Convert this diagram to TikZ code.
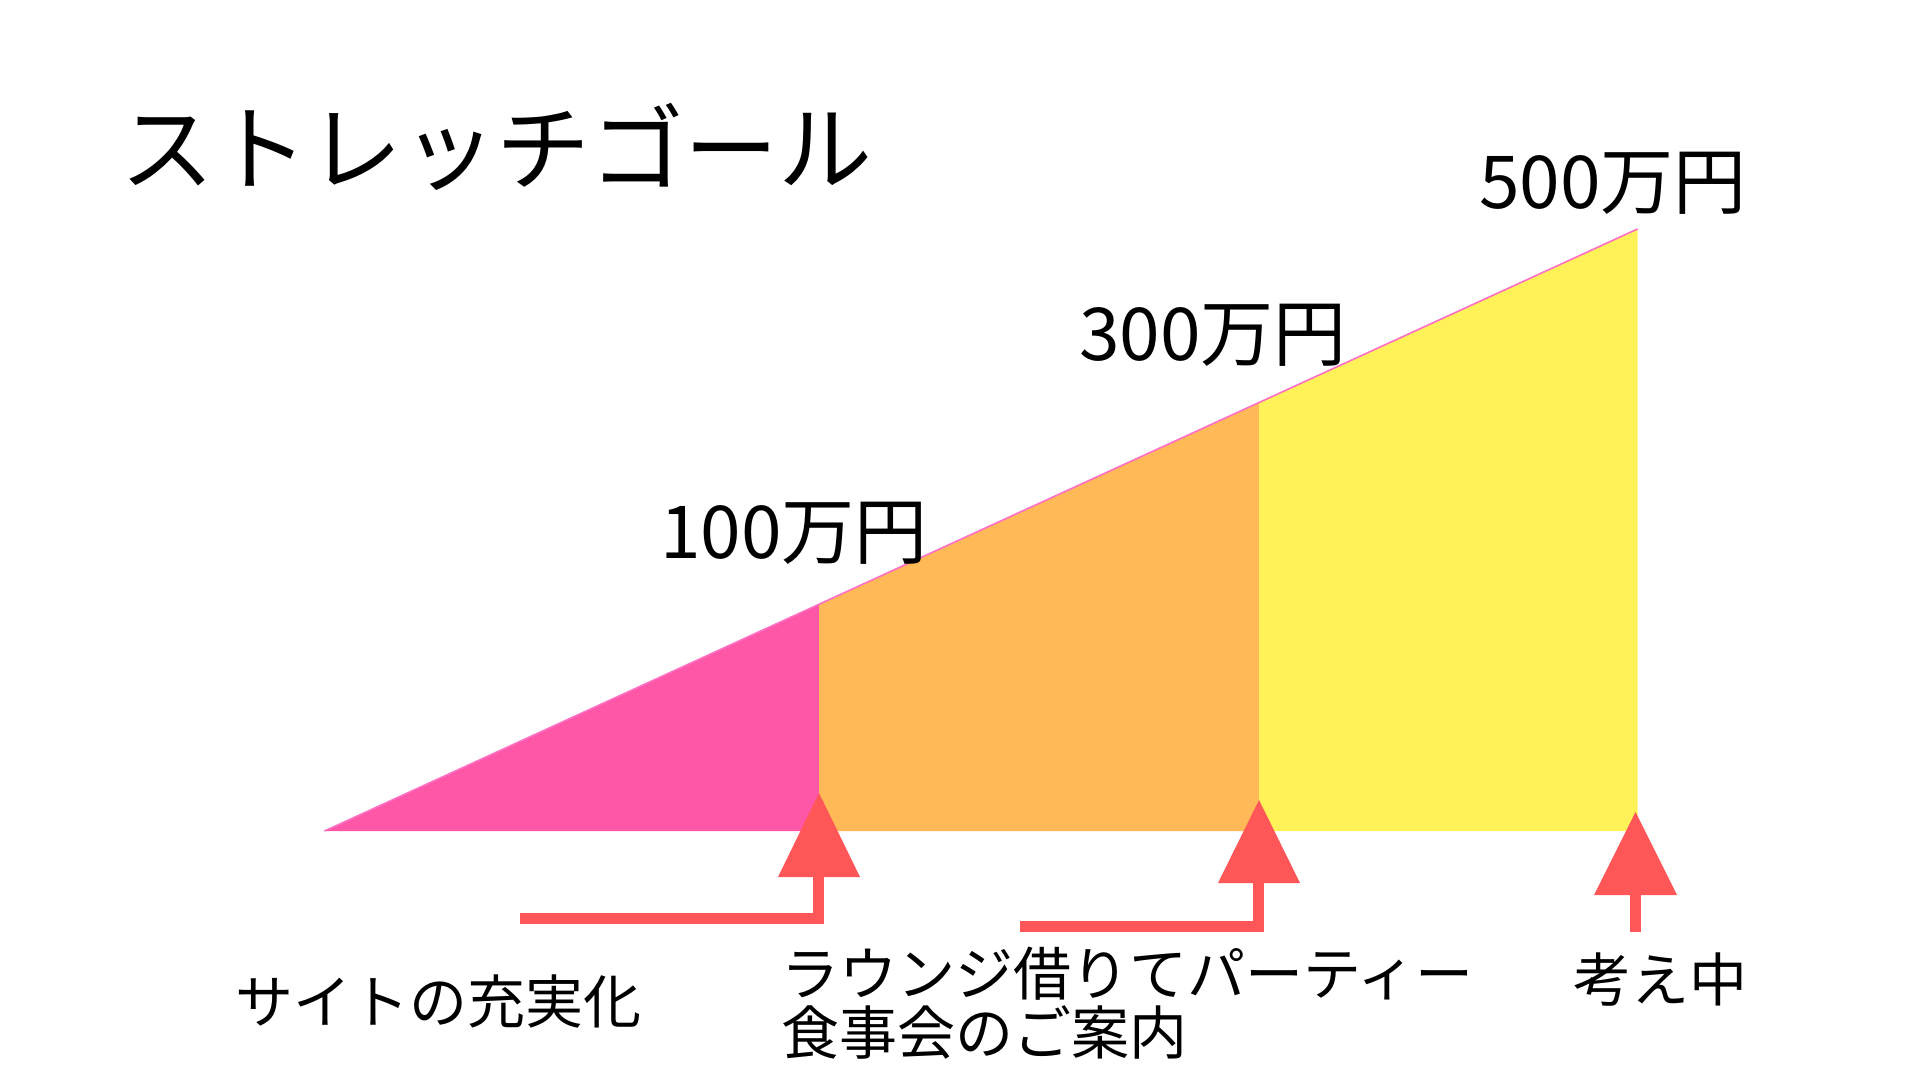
\documentclass[tikz,border=0pt]{standalone}
\usepackage{fontspec}
\setmainfont{Noto Sans CJK JP}
\begin{document}
\begin{tikzpicture}[x=0.5pt,y=-0.5pt,
  title/.style={inner sep=0pt,anchor=west,font=\fontsize{47}{56}\selectfont},
  amount/.style={inner sep=0pt,font=\fontsize{36.5}{42}\selectfont},
  label/.style={inner sep=0pt,anchor=west,align=left,font=\fontsize{29}{29.5}\selectfont},
  shaft/.style={draw=cred,line width=5.5pt,line join=miter,line cap=butt},
  head/.style={fill=cred}]
\definecolor{cpink}{HTML}{FF57A8}
\definecolor{corange}{HTML}{FFBA57}
\definecolor{cyellow}{HTML}{FFF258}
\definecolor{cred}{HTML}{FF5757}
\definecolor{cline}{HTML}{FF6FC6}
\fill[white] (0,0) rectangle (1920,1080);
\useasboundingbox (0,0) rectangle (1920,1080);
% milestones
\coordinate (s0) at (324.5,831);
\coordinate (t1) at (819,604);
\coordinate (b1) at (819,831);
\coordinate (t2) at (1259,402.4);
\coordinate (b2) at (1259,831);
\coordinate (t3) at (1637.5,229);
\coordinate (b3) at (1637.5,831);
\fill[cpink] (s0) -- (t1) -- (b1) -- cycle;
\fill[corange] (t1) -- (t2) -- (b2) -- (b1) -- cycle;
\fill[cyellow] (t2) -- (t3) -- (b3) -- (b2) -- cycle;
\draw[cline,line width=0.8pt] (s0) -- (t3);
% texts
\node[title] (ttl) at (120,147) {ストレッチゴール};
\node[amount] (a1) at (794,533) {100万円};
\node[amount] (a3) at (1213,335) {300万円};
\node[amount] (a5) at (1613,183) {500万円};
\node[label] (l1) at (235,1002) {サイトの充実化};
\node[label] (l2) at (781,1003) {ラウンジ借りてパーティー\\食事会のご案内};
\node[label] (l3) at (1573,980) {考え中};
% arrows
\coordinate (h1) at (520,918);
\coordinate (h2) at (1020,926);
\coordinate (h3) at (1635.5,932);
\draw[shaft] (h1) -| (818,877);
\fill[head] (819,793) -- (778,877) -- (860,877) -- cycle;
\draw[shaft] (h2) -| (1258,883);
\fill[head] (1259,800) -- (1218,883) -- (1300,883) -- cycle;
\draw[shaft] (h3) -- (1635.5,895);
\fill[head] (1635.5,812) -- (1594,895) -- (1677,895) -- cycle;
\end{tikzpicture}
\end{document}
